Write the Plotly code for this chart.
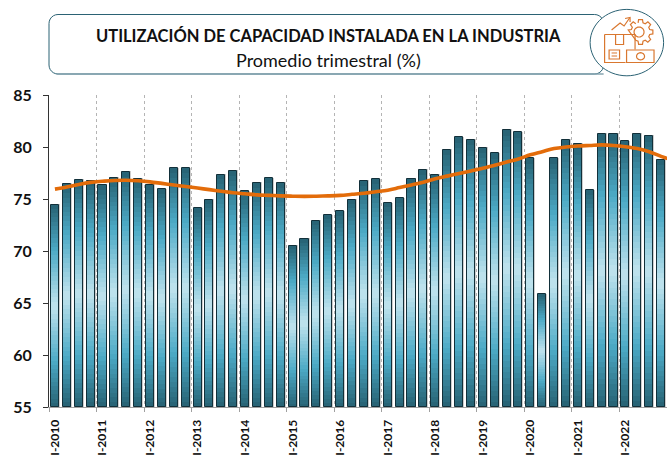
import math
import plotly.graph_objects as go

years = list(range(2010, 2023))
capacity = [74.45, 76.45, 76.85, 76.75,
            76.3, 77.05, 77.6, 76.95,
            76.35, 75.95, 77.95, 77.95,
            74.1, 74.95, 77.35, 77.7,
            75.75, 76.55, 77.0, 76.55,
            70.5, 71.15, 72.9, 73.45,
            73.8, 74.95, 76.75, 76.9,
            74.6, 75.05, 76.95, 77.8,
            77.35, 79.75, 80.95, 80.7,
            79.95, 79.4, 81.65, 81.4,
            78.9, 65.85, 78.9, 80.7,
            80.3, 75.85, 81.25, 81.25,
            80.55, 81.25, 81.05, 78.75]
trend = [75.95, 76.15, 76.4, 76.6,
         76.7, 76.78, 76.8, 76.75,
         76.65, 76.5, 76.35, 76.2,
         76.05, 75.9, 75.75, 75.6,
         75.5, 75.4, 75.35, 75.3,
         75.27, 75.25, 75.27, 75.3,
         75.35, 75.45, 75.55, 75.7,
         75.85, 76.1, 76.35, 76.6,
         76.95, 77.2, 77.45, 77.7,
         77.95, 78.25, 78.55, 78.85,
         79.25, 79.55, 79.85, 80.0,
         80.1, 80.15, 80.2, 80.15,
         80.03, 79.85, 79.55, 79.1, 78.75]

Y_MIN, Y_MAX = 55, 85
L, R, T, B = 48.5, 667.5, 95, 407
W, H = 668, 456
cats = list(range(len(capacity)))
BAR = 0.68

STOPS = [(0.0, (40, 100, 118)), (0.45, (76, 170, 198)), (1.0, (188, 225, 236))]


def shade(t):
    for (a, ca), (b, cb) in zip(STOPS, STOPS[1:]):
        if t <= b:
            f = (t - a) / (b - a)
            return "rgb(%d,%d,%d)" % tuple(round(x + (y - x) * f) for x, y in zip(ca, cb))
    return "rgb(188,225,236)"


fig = go.Figure()
# soft grey halo
fig.add_bar(x=cats, y=[v - Y_MIN + 0.06 for v in capacity], base=Y_MIN, width=0.84,
            marker=dict(color="rgba(130,130,130,0.4)", line_width=0), hoverinfo="skip")
# vertical gradient: nested bars, from outer (dark) to middle (light)
N = 24
for k in range(N):
    lo = [Y_MIN + (v - Y_MIN) * k / (2 * N) for v in capacity]
    hi = [v - (v - Y_MIN) * k / (2 * N) for v in capacity]
    fig.add_bar(x=cats, y=[h - l for h, l in zip(hi, lo)], base=lo, width=BAR,
                marker=dict(color=shade(k / (N - 1)), line_width=0), hoverinfo="skip")
# outline
fig.add_bar(x=cats, y=[v - Y_MIN for v in capacity], base=Y_MIN, width=BAR,
            marker=dict(color="rgba(0,0,0,0)", line=dict(color="#12303A", width=1)),
            hoverinfo="skip")
fig.add_scatter(x=cats + [len(capacity)], y=trend, mode="lines",
                line=dict(color="#E36C0A", width=3.6, shape="spline", smoothing=1.0),
                hoverinfo="skip")

fig.update_layout(
    width=W, height=H, barmode="overlay", showlegend=False, bargap=0,
    margin=dict(l=L, r=W - R, t=T, b=H - B, autoexpand=False),
    paper_bgcolor="white", plot_bgcolor="white",
    font=dict(family="Lato", color="#111111"),
    xaxis=dict(range=[-0.5, len(capacity) - 0.5], showgrid=False, zeroline=False,
               tickmode="array", tickvals=cats[::4], ticktext=[f"I-{y}" for y in years],
               ticks="outside", ticklen=7, tickcolor="rgba(0,0,0,0)", tickangle=-90,
               tickfont=dict(family="Lato", size=12, color="#111111", weight="bold"),
               showline=True, linecolor="#A0A0A0", linewidth=1,
               minor=dict(tickmode="array", tickvals=[c - 0.5 for c in cats[::4]],
                          ticks="outside", ticklen=4, tickcolor="#A0A0A0",
                          showgrid=True, gridcolor="#B4B4B4", griddash="dot", gridwidth=1)),
    yaxis=dict(range=[Y_MIN, Y_MAX], tickmode="array", tickvals=list(range(55, 86, 5)),
               showgrid=False, zeroline=False, showline=True, linecolor="#333333", linewidth=1,
               ticks="outside", ticklen=5, tickcolor="#333333", ticklabelstandoff=8,
               tickfont=dict(family="Lato", size=16, color="#111111", weight="bold")),
)


def px(x):
    return (x - L) / (R - L)


def py(y):
    return (B - y) / (B - T)


def shape_path(points, close=False):
    d = "M" + " L".join(f"{x:.5f},{y:.5f}" for x, y in points)
    return d + (" Z" if close else "")


shapes = []


def add_px_path(d, color, width, fill=None):
    shapes.append(dict(type="path", path=d, xref="paper", yref="paper",
                       line=dict(color=color, width=width),
                       fillcolor=fill if fill else "rgba(0,0,0,0)", layer="above"))


def P(points, close=False):
    return shape_path([(px(x), py(y)) for x, y in points], close)


def rounded(x0, y0, x1, y1, r):
    pts = []
    for cx, cy, a0 in ((x1 - r, y0 + r, -90), (x1 - r, y1 - r, 0), (x0 + r, y1 - r, 90), (x0 + r, y0 + r, 180)):
        for i in range(7):
            a = math.radians(a0 + i * 15)
            pts.append((cx + r * math.cos(a), cy + r * math.sin(a)))
    return pts


def ellipse(cx, cy, rx, ry, n=60):
    return [(cx + rx * math.cos(2 * math.pi * i / n), cy + ry * math.sin(2 * math.pi * i / n)) for i in range(n)]


# title box
add_px_path(P(rounded(48.5, 14.5, 604, 74, 9), True), "#2B6274", 1)
shapes.append(dict(type="line", xref="paper", yref="paper", x0=px(56), x1=px(604), y0=py(74), y1=py(74),
                   line=dict(color="#86A5B0", width=1.6), layer="above"))
# badge
add_px_path(P(ellipse(627.3, 42.6, 36.8, 33.2), True), "#2B6274", 1, "white")
ICON = "#D9772F"
add_px_path(P([(605, 34.5), (635.5, 34.5), (635.5, 49.5)]), ICON, 1.2)
add_px_path(P([(605, 34.5), (605, 62.5), (626, 62.5)]), ICON, 1.2)
add_px_path(P([(616, 34.5), (616, 44.5), (624, 44.5), (624, 34.5)]), ICON, 1.2)
add_px_path(P([(609.5, 50), (620, 50), (620, 59), (609.5, 59)], True), ICON, 1.2)
add_px_path(P([(612, 53), (617.5, 53)]), ICON, 1)
add_px_path(P([(612, 56), (617.5, 56)]), ICON, 1)
add_px_path(P([(627, 50), (654.5, 50), (654.5, 62.5), (627, 62.5)], True), ICON, 1.2)
add_px_path(P(ellipse(641, 56.3, 4, 3.6, 24), True), ICON, 1.2)
add_px_path(P([(612, 30), (620.5, 23), (624.5, 26), (630, 18)]), ICON, 1.2)
add_px_path(P([(625.5, 18.5), (630.5, 17.5), (630.5, 22)]), ICON, 1.2)
add_px_path(P(ellipse(639.5, 32, 5, 5, 24), True), ICON, 1.2)
gear = []
for i in range(8):
    a = math.radians(i * 45 - 90)
    for da, r in ((-15, 9.5), (-9, 12.5), (9, 12.5), (15, 9.5)):
        b = a + math.radians(da)
        gear.append((641 + r * math.cos(b), 32 + r * math.sin(b)))
start = next(i for i, p in enumerate(gear) if p[1] < 24)
gear = gear[start:] + gear[:start]
keep = [p for p in gear if not (p[1] > 33 and p[0] < 636)]
add_px_path(P(keep), ICON, 1.2)

fig.update_layout(shapes=shapes)

fig.add_annotation(xref="paper", yref="paper", x=px(328), y=py(35.5), showarrow=False,
                   xanchor="center", yanchor="middle",
                   text="<b>UTILIZACIÓN DE CAPACIDAD INSTALADA EN LA INDUSTRIA</b>",
                   font=dict(family="Lato", size=16.5, color="#111111"))
fig.add_annotation(xref="paper", yref="paper", x=px(328), y=py(60), showarrow=False,
                   xanchor="center", yanchor="middle",
                   text="Promedio trimestral (%)",
                   font=dict(family="Lato", size=18, color="#111111"))

fig.write_html("out.html", config=dict(displayModeBar=False),
               post_script="document.body.style.margin='0';document.body.style.overflow='hidden';")
